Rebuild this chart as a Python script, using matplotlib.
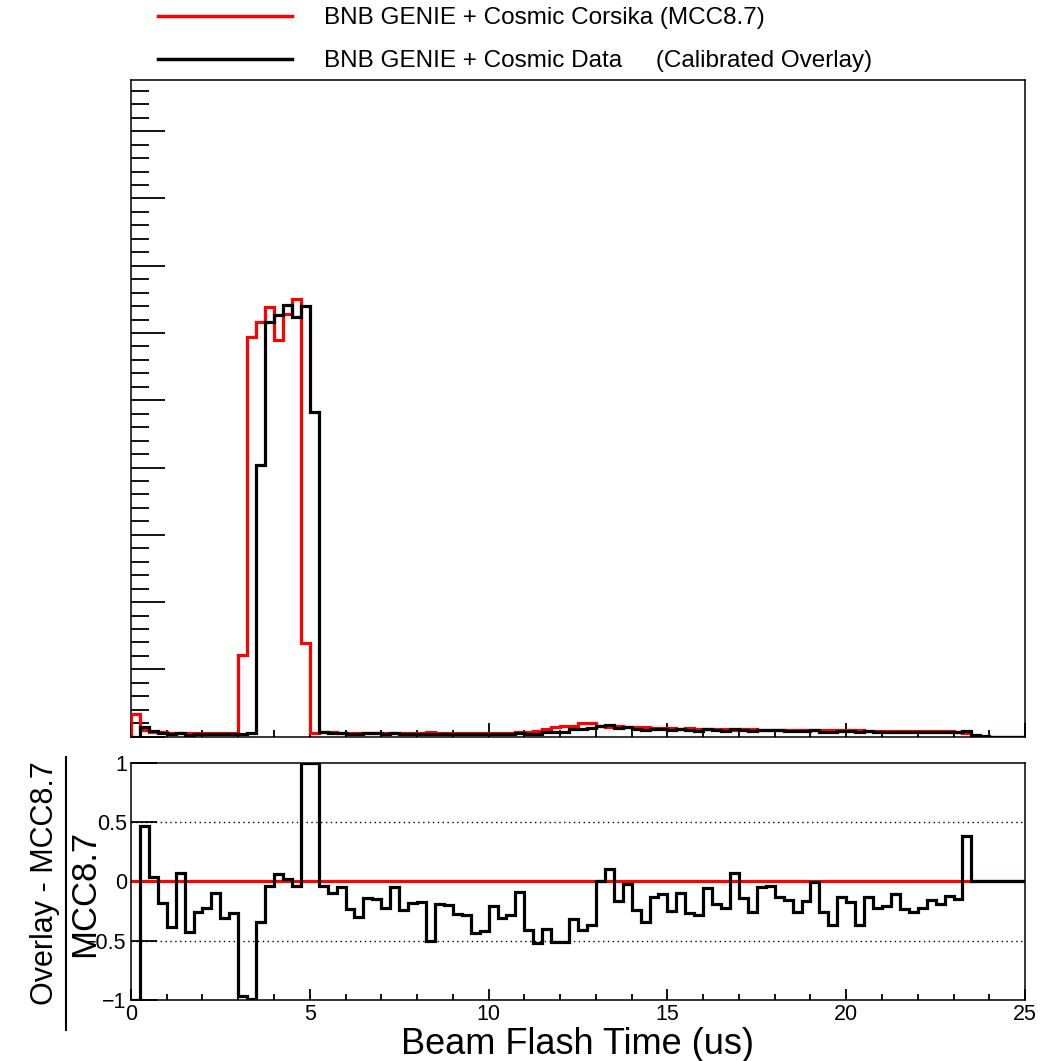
import numpy as np
import matplotlib
matplotlib.use("Agg")
import matplotlib.pyplot as plt
from matplotlib.ticker import MultipleLocator
from matplotlib.lines import Line2D

plt.rcParams['font.family'] = ['Liberation Sans', 'DejaVu Sans']

# 100 bins of 0.25 us from 0 to 25 us
bin_edges = np.linspace(0, 25, 101)

# BNB GENIE + Cosmic Corsika (MCC8.7), arbitrary units (100 per major tick)
mcc = [
    34, 10, 7.5, 6.5, 6, 5.5, 5.5, 5, 5, 5,
    5, 5, 121, 594, 616, 639, 590, 628, 650, 139,
    5.5, 6.5, 6.2, 6.0, 6.0, 5.8, 5.8, 5.6, 5.6, 5.6,
    5.6, 5.5, 5.5, 6.4, 5.6, 5.6, 5.6, 5.8, 6.0, 6.0,
    5.6, 5.8, 6.0, 6.2, 7.0, 9, 11, 15, 15.5, 16,
    20, 20.5, 16, 15, 15.5, 14, 14.5, 14, 13, 13,
    12.5, 12, 12.5, 12, 11.5, 11.5, 11, 10.5, 11, 11,
    10.5, 10.5, 10.5, 10, 10.5, 10, 10, 10, 10.5, 9.5,
    9.5, 10, 9, 9, 9, 8.5, 9, 8.5, 8.5, 8,
    8, 8, 7.5, 6, 0, 0, 0, 0, 0, 0,
]

# BNB GENIE + Cosmic Data (Calibrated Overlay)
overlay = [
    0, 14.7, 7.8, 5.3, 3.7, 5.9, 3.1, 3.7, 3.9, 4.5,
    3.5, 3.7, 3.6, 5.9, 404, 617, 627, 641, 623, 640,
    483, 6.2, 5.6, 5.7, 4.6, 4.1, 5.0, 4.8, 4.3, 5.3,
    4.3, 4.5, 4.6, 3.2, 4.5, 4.5, 4.1, 4.1, 3.4, 3.5,
    4.4, 4.0, 4.3, 5.7, 4.1, 4.3, 6.6, 7.4, 7.6, 11.0,
    11.8, 12.9, 16.1, 16.6, 13.0, 13.7, 11.0, 9.2, 11.2, 11.6,
    9.4, 10.8, 9.2, 8.6, 10.9, 9.3, 8.5, 11.2, 9.5, 8.1,
    10.0, 10.1, 9.2, 8.4, 7.8, 8.4, 10.0, 7.5, 6.7, 8.2,
    7.8, 6.3, 7.8, 7.0, 7.1, 7.6, 6.9, 6.3, 6.6, 6.8,
    6.5, 7.0, 6.4, 8.3, 2, 1, 0, 0, 0, 0,
]

# (Overlay - MCC8.7) / MCC8.7 as drawn (clipped to the frame)
ratio = [
    -1.0, 0.465, 0.034, -0.183, -0.38, 0.07, -0.43, -0.254, -0.225, -0.099,
    -0.304, -0.262, -0.97, -0.99, -0.344, -0.034, 0.062, 0.02, -0.042, 1.0,
    1.0, -0.042, -0.093, -0.05, -0.234, -0.296, -0.14, -0.145, -0.225, -0.05,
    -0.24, -0.183, -0.169, -0.5, -0.19, -0.2, -0.276, -0.287, -0.437, -0.417,
    -0.211, -0.31, -0.28, -0.085, -0.408, -0.52, -0.40, -0.507, -0.51, -0.315,
    -0.41, -0.37, 0.006, 0.107, -0.163, -0.02, -0.24, -0.346, -0.135, -0.107,
    -0.248, -0.099, -0.268, -0.287, -0.056, -0.19, -0.225, 0.07, -0.14, -0.26,
    -0.05, -0.037, -0.127, -0.16, -0.26, -0.163, -0.003, -0.254, -0.366, -0.132,
    -0.177, -0.366, -0.135, -0.225, -0.211, -0.104, -0.234, -0.26, -0.22, -0.155,
    -0.19, -0.121, -0.149, 0.38, 0, 0, 0, 0, 0, 0,
]

ratio_ticks = [-1, -0.5, 0, 0.5, 1]
ratio_ticklabels = ['\u22121', '\u22120.5', '0', '0.5', '1']
x_ticks = [0, 5, 10, 15, 20, 25]

label_mcc = 'BNB GENIE + Cosmic Corsika (MCC8.7)'
label_overlay = 'BNB GENIE + Cosmic Data     (Calibrated Overlay)'

fig = plt.figure(figsize=(10.61, 10.61), dpi=100)
ax1 = fig.add_axes([0.1234, 0.3057, 0.8427, 0.6189])
ax2 = fig.add_axes([0.1234, 0.0575, 0.8427, 0.2234])

# top panel
ax1.stairs(mcc, bin_edges, color='red', lw=2.3, zorder=3)
ax1.stairs(overlay, bin_edges, color='black', lw=2.3, zorder=4)
ax1.set_xlim(0, 25)
ax1.set_ylim(0, 976)
ax1.set_xticks(x_ticks)
ax1.xaxis.set_minor_locator(MultipleLocator(1))
ax1.yaxis.set_major_locator(MultipleLocator(100))
ax1.yaxis.set_minor_locator(MultipleLocator(20))
ax1.tick_params(which='both', direction='in', top=False, right=False,
                labelbottom=False, labelleft=False, width=1.3)
ax1.tick_params(axis='y', which='major', length=24.5)
ax1.tick_params(axis='y', which='minor', length=13)
ax1.tick_params(axis='x', which='major', length=10)
ax1.tick_params(axis='x', which='minor', length=5)
for s in ax1.spines.values():
    s.set_linewidth(1.1)

# ratio panel
ax2.axhline(0, color='red', lw=2.3, zorder=2)
for yv in (0.5, -0.5):
    ax2.axhline(yv, color='black', lw=1.0, ls=(0, (1, 2.5)), zorder=1)
ax2.stairs(ratio, bin_edges, baseline=None, color='black', lw=2.3, zorder=3)
ax2.set_xlim(0, 25)
ax2.set_ylim(-1, 1)
ax2.set_yticks(ratio_ticks)
ax2.set_yticklabels(ratio_ticklabels)
ax2.set_xticks(x_ticks)
ax2.xaxis.set_minor_locator(MultipleLocator(1))
ax2.tick_params(which='both', direction='in', top=False, right=False,
                labelsize=15.5, width=1.3, pad=3)
ax2.tick_params(axis='y', which='major', length=18.5)
ax2.tick_params(axis='x', which='major', length=8)
ax2.tick_params(axis='x', which='minor', length=4)
for s in ax2.spines.values():
    s.set_linewidth(1.1)
ax2.set_xlabel('Beam Flash Time (us)', fontsize=26, labelpad=1)

# ratio y-axis title drawn as a fraction
fig.text(45 / 1061, 1 - 883 / 1061, 'Overlay - MCC8.7', rotation=90,
         ha='center', va='center', fontsize=22)
fig.add_artist(Line2D([66 / 1061, 66 / 1061], [1 - 757 / 1061, 1 - 1030 / 1061],
                      color='black', lw=1.5))
fig.text(85 / 1061, 1 - 893 / 1061, 'MCC8.7', rotation=90,
         ha='center', va='center', fontsize=25)

handles = [Line2D([], [], color='red', lw=2.5), Line2D([], [], color='black', lw=2.5)]
fig.legend(handles, [label_mcc, label_overlay], loc='upper left',
           bbox_to_anchor=(158 / 1061, 1 - 7 / 1061), frameon=False,
           fontsize=17.5, handlelength=5.5, handletextpad=1.35,
           labelspacing=0.88, borderpad=0, borderaxespad=0)

fig.savefig('out.png', dpi=100)
